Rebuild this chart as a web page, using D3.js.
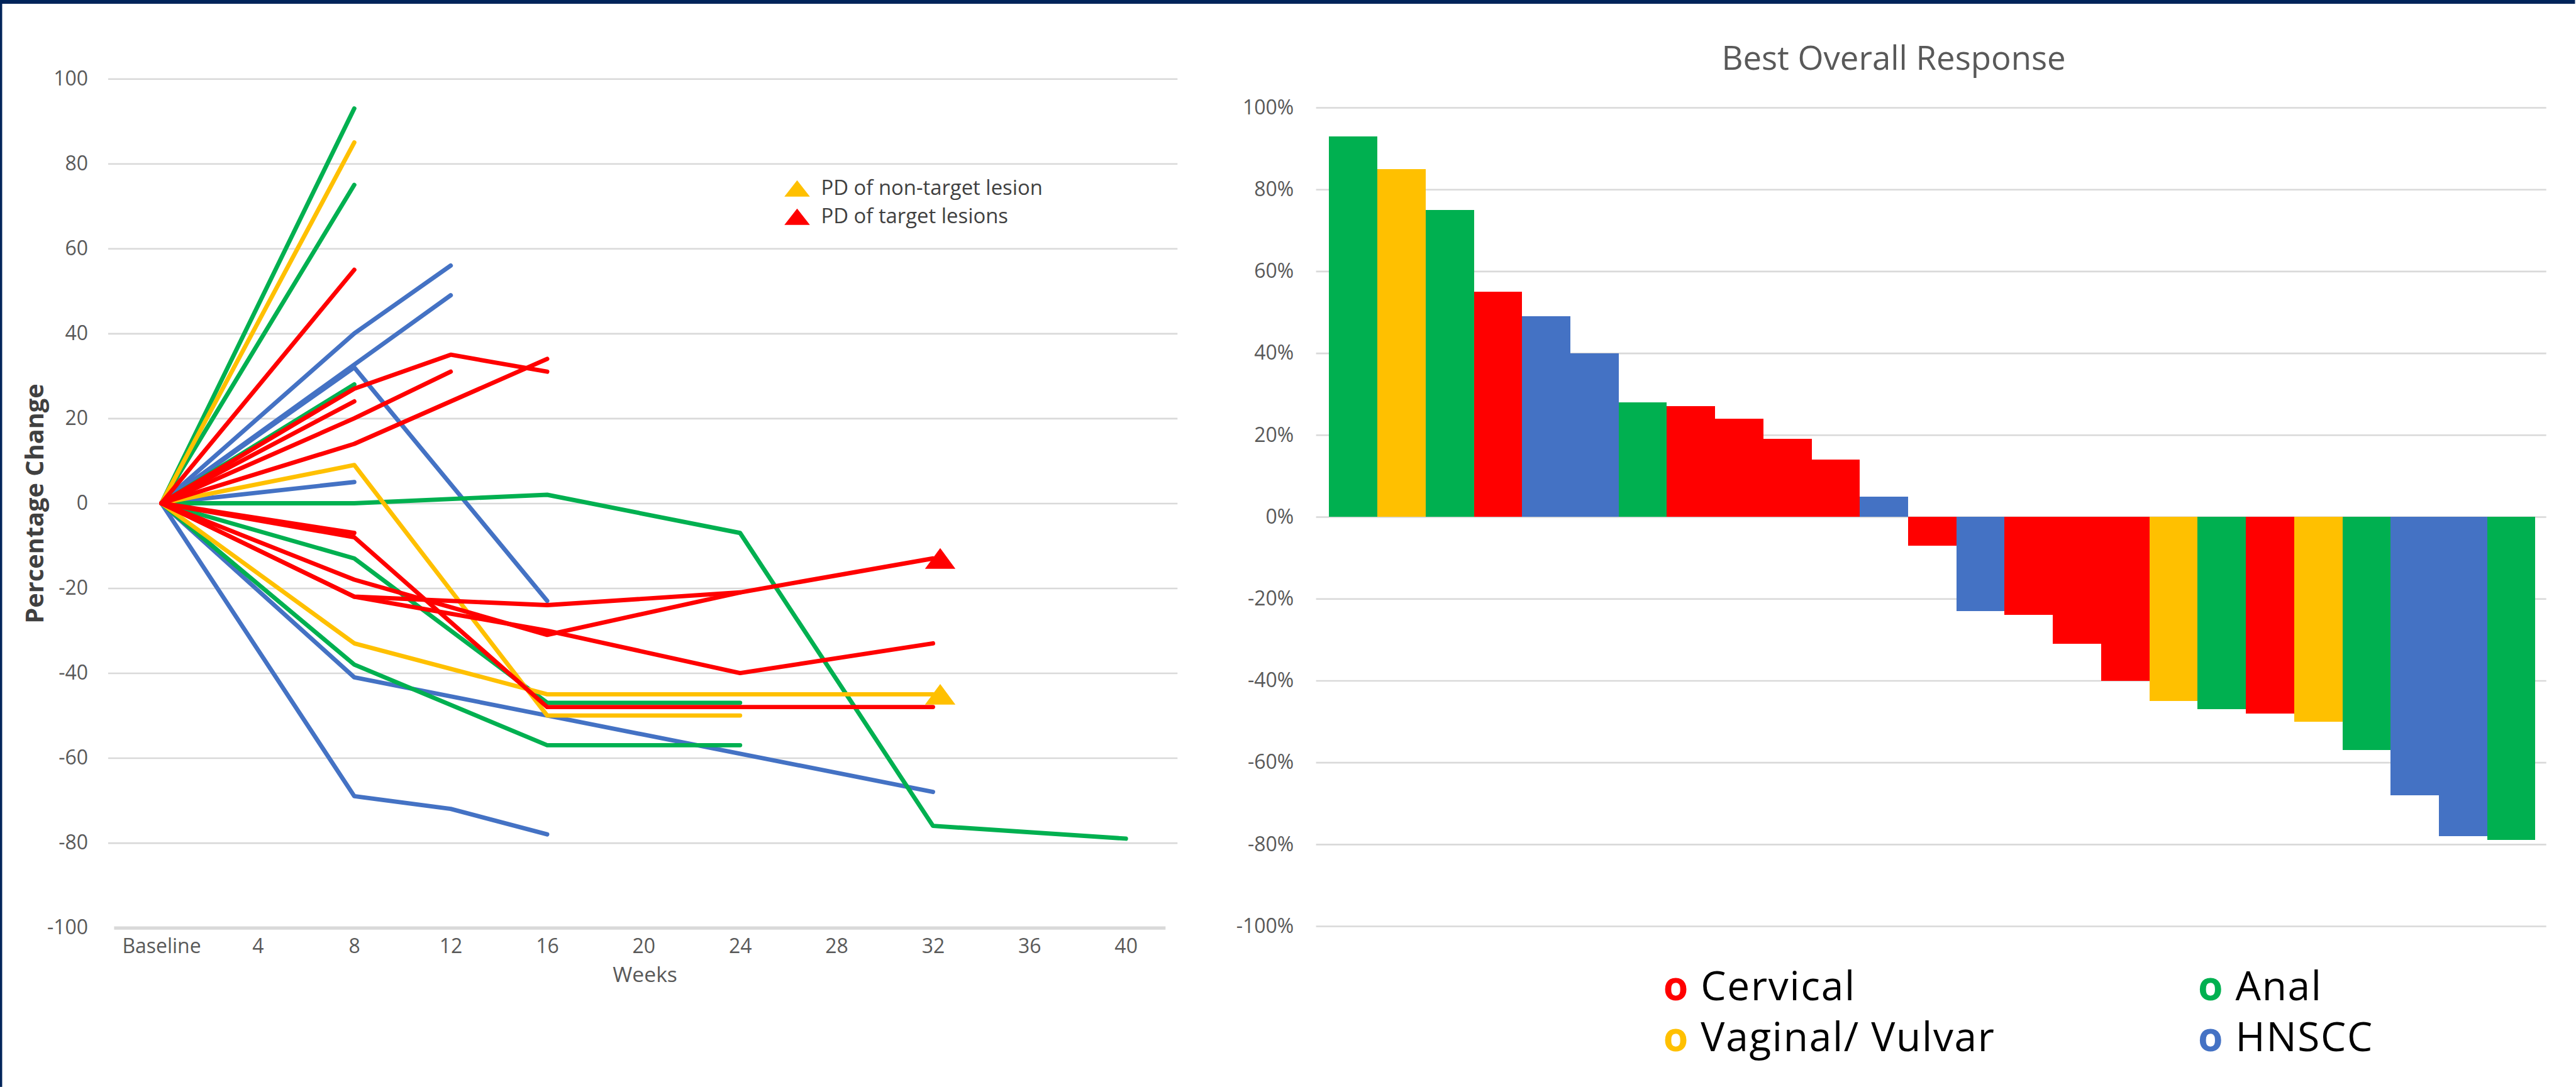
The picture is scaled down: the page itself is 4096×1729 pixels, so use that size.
<!DOCTYPE html>
<html>
<head>
<meta charset="utf-8">
<script src="https://cdn.jsdelivr.net/npm/d3@7"></script>
<style>
  html, body { margin: 0; padding: 0; background: #ffffff; overflow: hidden; }
  svg { display: block; }
</style>
</head>
<body>
<svg id="chart" width="4096" height="1729"></svg>
<script>
// ---- tumour types and their colours ----
const tumourTypes  = ["Cervical", "Vaginal/Vulvar", "Anal", "HNSCC"];
const tumourColors = ["#FF0000", "#FFC000", "#00B050", "#4472C4"];

// ---- spider plot: axes ----
const weekTicks  = [0, 4, 8, 12, 16, 20, 24, 28, 32, 36, 40];
const weekLabels = ["Baseline", "4", "8", "12", "16", "20", "24", "28", "32", "36", "40"];
const changeTicks = [-100, -80, -60, -40, -20, 0, 20, 40, 60, 80, 100];

// ---- spider plot: one trajectory per patient, [week, % change from baseline] ----
const spiderTypes = [
  "HNSCC", "HNSCC", "HNSCC", "HNSCC", "HNSCC", "HNSCC",
  "Anal", "Anal", "Anal", "Anal", "Anal", "Anal",
  "Vaginal/Vulvar", "Vaginal/Vulvar", "Vaginal/Vulvar",
  "Cervical", "Cervical", "Cervical", "Cervical", "Cervical",
  "Cervical", "Cervical", "Cervical", "Cervical", "Cervical"
];
const spiderPoints = [
  [[0, 0], [8, 40], [12, 56]],
  [[0, 0], [12, 49]],
  [[0, 0], [8, 32], [16, -23]],
  [[0, 0], [8, 5]],
  [[0, 0], [8, -41], [16, -50], [24, -59], [32, -68]],
  [[0, 0], [8, -69], [12, -72], [16, -78]],
  [[0, 0], [8, 93]],
  [[0, 0], [8, 75]],
  [[0, 0], [8, 28]],
  [[0, 0], [8, -13], [16, -47], [24, -47]],
  [[0, 0], [8, -38], [16, -57], [24, -57]],
  [[0, 0], [8, 0], [16, 2], [24, -7], [32, -76], [40, -79]],
  [[0, 0], [8, 85]],
  [[0, 0], [8, 9], [16, -50], [24, -50]],
  [[0, 0], [8, -33], [16, -45], [24, -45], [32, -45]],
  [[0, 0], [8, 55]],
  [[0, 0], [8, 27], [12, 35], [16, 31]],
  [[0, 0], [8, 24]],
  [[0, 0], [8, 20], [12, 31]],
  [[0, 0], [8, 14], [16, 34]],
  [[0, 0], [8, -7]],
  [[0, 0], [8, -8], [16, -48], [24, -48], [32, -48]],
  [[0, 0], [8, -22], [16, -24], [24, -21]],
  [[0, 0], [8, -18], [16, -31], [24, -21], [32, -13]],
  [[0, 0], [8, -22], [16, -30], [24, -40], [32, -33]]
];

// ---- progression markers ----
const markerLabels = ["PD of non-target lesion", "PD of target lesions"];
const markerColors = ["#FFC000", "#FF0000"];
const markerWeeks  = [32.3, 32.3];
const markerValues = [-45, -13];

// ---- waterfall: best overall response per patient ----
const waterfallTypes = [
  "Anal", "Vaginal/Vulvar", "Anal", "Cervical", "HNSCC", "HNSCC", "Anal",
  "Cervical", "Cervical", "Cervical", "Cervical", "HNSCC", "Cervical", "HNSCC",
  "Cervical", "Cervical", "Cervical", "Vaginal/Vulvar", "Anal", "Cervical",
  "Vaginal/Vulvar", "Anal", "HNSCC", "HNSCC", "Anal"
];
const waterfallValues = [
  0.93, 0.85, 0.75, 0.55, 0.49, 0.40, 0.28, 0.27, 0.24, 0.19, 0.14, 0.05, -0.07,
  -0.23, -0.24, -0.31, -0.40, -0.45, -0.47, -0.48, -0.50, -0.57, -0.68, -0.78, -0.79
];
const waterfallTicks = [-1, -0.8, -0.6, -0.4, -0.2, 0, 0.2, 0.4, 0.6, 0.8, 1];
const legendOrder = ["Cervical", "Anal", "Vaginal/Vulvar", "HNSCC"];

// ---------------------------------------------------------------
const FONT = "'Open Sans', 'Noto Sans', sans-serif";
const GRID = "#D9D9D9";
const LABEL = "#595959";
const color = d3.scaleOrdinal(tumourTypes, tumourColors);

const svg = d3.select("#chart");
const root = svg.append("g").attr("transform", "scale(0.864)");

// page background and navy frame edges
root.append("rect").attr("width", 4739).attr("height", 2001).attr("fill", "#ffffff");
root.append("rect").attr("width", 4739).attr("height", 7).attr("fill", "#00245A");
root.append("rect").attr("width", 4).attr("height", 2001).attr("fill", "#00245A");

// =================== spider plot ===================
const xL = d3.scaleLinear([0, 40], [297, 2072]);
const yL = d3.scaleLinear([-100, 100], [1708, 145]);
const gridL0 = 199, gridL1 = 2167;

const yAxisL = root.append("g")
  .attr("transform", `translate(${gridL0},0)`)
  .call(d3.axisLeft(yL).tickValues(changeTicks)
    .tickSize(-(gridL1 - gridL0)).tickPadding(37)
    .tickFormat(d => String(d)));
yAxisL.select(".domain").remove();
yAxisL.selectAll(".tick line").attr("stroke", GRID).attr("stroke-width", 3);
yAxisL.selectAll(".tick").filter(d => d === -100).select("line")
  .attr("x1", 11).attr("x2", 1946).attr("stroke-width", 6);
yAxisL.selectAll(".tick text")
  .attr("font-family", FONT).attr("font-size", 37).attr("fill", LABEL);

const xAxisL = root.append("g")
  .attr("transform", `translate(0,${yL(-100)})`)
  .call(d3.axisBottom(xL).tickValues(weekTicks).tickSize(0).tickPadding(20)
    .tickFormat((d, i) => weekLabels[i]));
xAxisL.select(".domain").remove();
xAxisL.selectAll(".tick text")
  .attr("font-family", FONT).attr("font-size", 37).attr("fill", LABEL);

root.append("text")
  .attr("x", 1187).attr("y", 1808)
  .attr("text-anchor", "middle")
  .attr("font-family", FONT).attr("font-size", 39).attr("fill", LABEL)
  .text("Weeks");

root.append("text")
  .attr("transform", "translate(80,927) rotate(-90)")
  .attr("text-anchor", "middle")
  .attr("font-family", FONT).attr("font-size", 46).attr("font-weight", "bold")
  .attr("fill", "#404040")
  .text("Percentage Change");

// trajectories, drawn type by type
const drawOrder = ["HNSCC", "Anal", "Vaginal/Vulvar", "Cervical"];
const spider = spiderPoints.map((pts, i) => ({ type: spiderTypes[i], pts }))
  .sort((a, b) => drawOrder.indexOf(a.type) - drawOrder.indexOf(b.type));
const line = d3.line().x(d => xL(d[0])).y(d => yL(d[1]));

root.append("g").selectAll("path")
  .data(spider)
  .join("path")
  .attr("d", d => line(d.pts))
  .attr("fill", "none")
  .attr("stroke", d => color(d.type))
  .attr("stroke-width", 8)
  .attr("stroke-linejoin", "round")
  .attr("stroke-linecap", "round");

// progression markers
const triangle = (w, h) => `M0,${-h / 2}L${w / 2},${h / 2}L${-w / 2},${h / 2}Z`;
root.append("g").selectAll("path")
  .data(markerValues.map((v, i) => ({ week: markerWeeks[i], value: v, color: markerColors[i] })))
  .join("path")
  .attr("transform", d => `translate(${xL(d.week)},${yL(d.value)})`)
  .attr("d", triangle(56, 38))
  .attr("fill", d => d.color);

// marker legend
const mLegend = root.append("g").attr("transform", "translate(1467,347)");
const mItems = mLegend.selectAll("g")
  .data(markerLabels)
  .join("g")
  .attr("transform", (d, i) => `translate(0,${i * 52})`);
mItems.append("path")
  .attr("d", triangle(47, 30))
  .attr("fill", (d, i) => markerColors[i]);
mItems.append("text")
  .attr("x", 44).attr("y", 12)
  .attr("font-family", FONT).attr("font-size", 38).attr("fill", "#404040")
  .text(d => d);

// =================== waterfall ===================
const yR = d3.scaleLinear([-1, 1], [1705, 198]);
const gridR0 = 2422, gridR1 = 4686;
const xR = d3.scaleBand(d3.range(waterfallValues.length), [2446, 4666]).padding(0);

const yAxisR = root.append("g")
  .attr("transform", `translate(${gridR0},0)`)
  .call(d3.axisLeft(yR).tickValues(waterfallTicks)
    .tickSize(-(gridR1 - gridR0)).tickPadding(41)
    .tickFormat(d => Math.round(d * 100) + "%"));
yAxisR.select(".domain").remove();
yAxisR.selectAll(".tick line").attr("stroke", GRID).attr("stroke-width", 3);
yAxisR.selectAll(".tick text")
  .attr("font-family", FONT).attr("font-size", 37).attr("fill", LABEL);

root.append("g").selectAll("rect")
  .data(waterfallValues.map((v, i) => ({ i, v, type: waterfallTypes[i] })))
  .join("rect")
  .attr("x", d => xR(d.i))
  .attr("width", xR.bandwidth())
  .attr("y", d => yR(Math.max(0, d.v)))
  .attr("height", d => Math.abs(yR(d.v) - yR(0)))
  .attr("fill", d => color(d.type))
  .attr("shape-rendering", "crispEdges");

root.append("text")
  .attr("x", 3485).attr("y", 128)
  .attr("text-anchor", "middle")
  .attr("font-family", FONT).attr("font-size", 61).attr("fill", LABEL)
  .text("Best Overall Response");

// tumour type legend, two columns
const legendCols = [3061, 4045], legendRows = [1842, 1935];
root.append("g").selectAll("text")
  .data(legendOrder)
  .join("text")
  .attr("x", (d, i) => legendCols[i % 2])
  .attr("y", (d, i) => legendRows[Math.floor(i / 2)])
  .attr("font-family", FONT).attr("font-size", 74)
  .attr("letter-spacing", 2)
  .each(function (d) {
    const t = d3.select(this);
    t.append("tspan").attr("fill", color(d)).attr("font-weight", "bold").text("o");
    t.append("tspan").attr("fill", "#000000").text(" " + (d === "Vaginal/Vulvar" ? "Vaginal/ Vulvar" : d));
  });
</script>
</body>
</html>
